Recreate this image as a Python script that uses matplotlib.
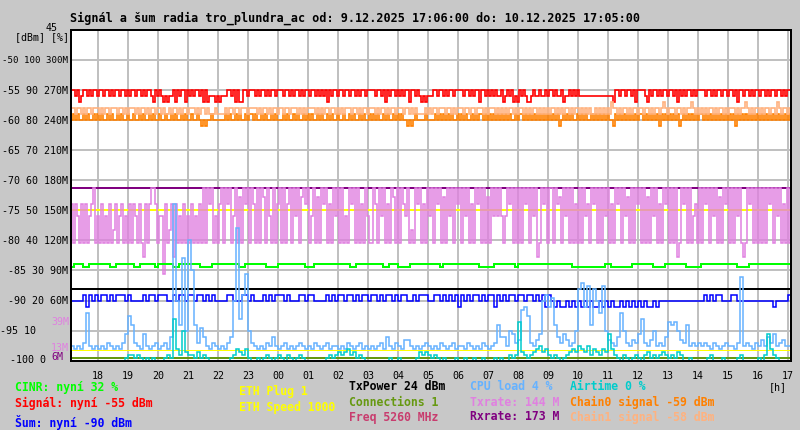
import numpy as np
import matplotlib
matplotlib.use("Agg")
import matplotlib.pyplot as plt

# time axis: 9.12. 17:06 -> 10.12. 17:06, hours counted from 9.12. 00:00
t_start = 17.1
t_end = 41.1

# signal [dBm], one string per hour (15 samples per hour = 4 min)
signal_hours = ["110120110101101", "101101011011010", "110110101102101", "020200121011210",
                "101101212000202", "000110121221101", "110101101011011", "101101011010110",
                "110101012101101", "101101101011011", "110110121011010", "101121101020200",
                "011011010110111", "101101011211010", "101001201012021", "010220100100101",
                "101001200101010", "000000000000000", "021101101101211", "110210110101101",
                "101210101101011", "110110101101101", "101211011010110", "110101101101011"]
signal_levels = {"0": -56, "1": -55, "2": -57}
signal_first = -50

chain1_hours = ["110110101101110", "101101110110101", "110101101011011", "010010110101101",
                "110101101000100", "001011011011101", "111010110101101", "101101110101011",
                "110101011011010", "101110110101101", "110101101011011", "101101010000101",
                "011011101101011", "101101101110101", "110101010110101", "101010110101010",
                "110101011010110", "101010010101010", "211010110101101", "101101011012101",
                "110110101121010", "101011010110101", "110101121010110", "101101102101101"]
chain1_levels = {"0": -59, "1": -58, "2": -57}

chain0_hours = ["010100101001010", "100101001010010", "010010100101001", "001001010010100",
                "100102020010000", "001010010100101", "101001010010100", "010100101001010",
                "100101001010010", "010010100101001", "010100101001010", "100202010000100",
                "001010101010010", "101001010110101", "010101010100101", "101010101010101",
                "010120101010010", "101001010101010", "021010101010101", "101010101210101",
                "010120101010101", "101010101010101", "012101010101010", "101010101010101"]
chain0_levels = {"0": -60, "1": -59, "2": -61}

# noise [dBm] (10 samples per hour)
noise_hours = ["0000121010", "1101011101", "0000101101", "1100101101", "1011010100",
               "0011000110", "1000101011", "1010001101", "1000010101", "1011010110",
               "1101011010", "1100101110", "0110101012", "1010110101", "1210101101",
               "1011010121", "0202202020", "2020220202", "0220202020", "2022020000",
               "0000000000", "0101011000", "1100000000", "0000200001"]
noise_levels = {"0": -90, "1": -89, "2": -91}
noise_first = -67.5

# CINR [%]
cinr_hours = ["1222112222", "2221122222", "2112222212", "2222112222", "2221111222",
              "2222221122", "2222211112", "2222222211", "1222222222", "2221122222",
              "2222112221", "1112222222", "2221222222", "2222221111", "1222222212",
              "2222222222", "2222222111", "1111111122", "1111111222", "2222111122",
              "2222211111", "2222222222", "2211112222", "2222222222"]
cinr_levels = {"1": 31, "2": 32}

# Txrate [M] (15 samples per hour)
txrate_hours = ["cfcdfcfcfdcafdf", "cfdfcfecfdcfdfc", "fcdfcfgcfcaacfd", "dhcfecgcfdfcfdf",
                "cfdfcfafacafdfc", "afacafdafbfacaf", "acfafabfadfafca", "fafcafadafbacaf",
                "dafbfacafcfadaf", "afdfacafafcfadf", "facfadafcfabfaf", "acdafefacafcfad",
                "afacafbfadafaca", "fadafcfacafafbf", "adadadfdacafafa", "facafadagfacafa",
                "afacbfadafafcfa", "fadcfacafafadaf", "cfacafadbfafaca", "fafbfadafcfacaf",
                "afagfacafafdcfa", "facafadafbfacaf", "afadafgfacafafa", "fafacafadafcfaf"]
txrate_levels = {"a": 173, "b": 163, "c": 156, "d": 144, "e": 130, "f": 117, "g": 104, "h": 87}

# CPU load [%] (10 samples per hour)
cpu_hours = [
    [5, 4, 5, 4, 6, 16, 5, 4, 5, 4], [5, 4, 6, 5, 4, 5, 4, 6, 9, 15],
    [12, 6, 5, 4, 9, 5, 4, 5, 6, 4], [5, 6, 4, 8, 52, 20, 12, 34, 10, 40],
    [30, 12, 6, 11, 8, 5, 4, 6, 5, 4], [5, 4, 6, 8, 20, 44, 14, 22, 29, 10],
    [6, 5, 4, 5, 4, 6, 5, 8, 5, 4], [5, 6, 4, 5, 4, 5, 6, 5, 4, 5],
    [4, 6, 5, 4, 5, 6, 4, 5, 5, 4], [5, 4, 6, 5, 4, 5, 6, 4, 5, 4],
    [5, 4, 5, 6, 4, 8, 5, 4, 6, 5], [4, 7, 7, 5, 4, 5, 4, 5, 6, 5],
    [4, 5, 4, 6, 5, 4, 5, 6, 4, 5], [5, 4, 6, 5, 4, 5, 4, 6, 5, 4],
    [5, 6, 12, 8, 8, 5, 10, 9, 6, 7], [17, 18, 15, 6, 5, 7, 9, 20, 22, 18],
    [21, 12, 8, 6, 9, 7, 5, 6, 10, 24], [26, 18, 25, 12, 24, 20, 16, 25, 10, 7],
    [6, 5, 8, 16, 10, 6, 5, 7, 6, 9], [14, 6, 5, 7, 10, 5, 6, 5, 8, 13],
    [12, 13, 10, 7, 6, 12, 5, 6, 5, 6], [5, 6, 5, 4, 6, 5, 4, 5, 6, 5],
    [5, 4, 6, 28, 5, 6, 5, 4, 6, 5], [7, 5, 8, 6, 9, 5, 6, 7, 5, 5]]

# Airtime [%]
airtime_hours = [
    [0, 0, 0, 0, 0, 0, 0, 0, 0, 0], [0, 0, 0, 0, 0, 0, 0, 0, 1, 2],
    [2, 1, 2, 1, 0, 1, 0, 1, 0, 0], [0, 1, 2, 1, 14, 4, 2, 10, 3, 2],
    [2, 1, 3, 1, 2, 1, 0, 0, 0, 0], [0, 0, 0, 1, 2, 4, 3, 2, 4, 1],
    [0, 0, 1, 0, 1, 2, 1, 0, 1, 2], [1, 0, 2, 1, 0, 1, 2, 1, 0, 0],
    [0, 0, 0, 0, 0, 1, 2, 1, 2, 3], [2, 3, 4, 2, 3, 1, 2, 1, 0, 0],
    [0, 0, 0, 0, 0, 0, 1, 0, 0, 1], [0, 0, 0, 0, 0, 1, 3, 2, 3, 2],
    [1, 2, 1, 0, 1, 0, 0, 0, 1, 0], [0, 1, 0, 0, 1, 0, 0, 1, 0, 0],
    [0, 1, 0, 1, 0, 0, 2, 1, 2, 13], [3, 2, 1, 2, 3, 4, 5, 3, 4, 2],
    [1, 2, 1, 0, 1, 2, 3, 4, 3, 5], [4, 3, 5, 2, 4, 3, 2, 4, 3, 9],
    [4, 2, 1, 0, 2, 1, 0, 1, 2, 1], [0, 2, 3, 1, 2, 1, 2, 3, 2, 1],
    [2, 1, 3, 2, 0, 0, 1, 0, 0, 0], [0, 0, 1, 2, 0, 0, 0, 1, 0, 0],
    [0, 0, 1, 2, 0, 0, 0, 0, 0, 1], [0, 2, 9, 4, 2, 1, 0, 0, 0, 0]]

# constant series
txpower = 24        # %
rxrate = 173        # M
eth_speed = 50      # % (scaled)
eth_plug = 11       # M (scaled)
connections = 1     # %

# left axis ticks
dbm_ticks = [-50, -55, -60, -65, -70, -75, -80, -85, -90]
hour_ticks = list(range(18, 42))

legend_rows = [
    (15, 387, "CINR: nyní 32 %", "#00ff00"),
    (15, 403, "Signál: nyní -55 dBm", "#ff0000"),
    (15, 422, "Šum: nyní -90 dBm", "#0000ff"),
    (239, 392, "ETH Plug 1", "#ffff00"),
    (239, 407, "ETH Speed 1000", "#ffff00"),
    (349, 387, "TxPower 24 dBm", "#000000"),
    (349, 402, "Connections 1", "#669911"),
    (349, 417, "Freq 5260 MHz", "#c83c6e"),
    (470, 387, "CPU load 4 %", "#66b2ff"),
    (470, 402, "Txrate: 144 M", "#e080e0"),
    (470, 417, "Rxrate: 173 M", "#800080"),
    (570, 387, "Airtime 0 %", "#00cccc"),
    (570, 402, "Chain0 signal -59 dBm", "#ff8000"),
    (570, 417, "Chain1 signal -58 dBm", "#ffb27f"),
]

PX = 0.72  # one pixel in points at dpi 100


def pct(v):
    return np.asarray(v, dtype=float) / 2 - 100


def mbit(v):
    return np.asarray(v, dtype=float) / 6 - 100


def expand(hours, levels=None):
    # one chunk per hour, samples spread evenly over the hour
    t, v = [], []
    for k, h in enumerate(hours):
        n = len(h)
        for j, c in enumerate(h):
            t.append(t_start + k + j / n)
            v.append(levels[c] if levels else c)
    return t, v


def draw(ax, tv, color, conv=None, lw=1.0, first=None):
    t, v = tv
    t = list(t) + [t_end]
    v = list(v) + [v[-1]]
    if first is not None:
        t = [t_start] + t
        v = [first] + v
    y = conv(v) if conv else v
    ax.step(t, y, where="post", color=color, lw=lw, solid_joinstyle="miter")


def hline(ax, y, color, lw=2 * PX):
    ax.axhline(y, color=color, lw=lw, snap=True)


W, H = 800, 430
fig = plt.figure(figsize=(8, 4.3), dpi=100, facecolor="#c8c8c8")
ax = fig.add_axes([71 / W, 1 - 360.5 / H, 720 / W, 330 / H])
ax.set_facecolor("white")
ax.set_xlim(t_start, t_end)
ax.set_ylim(-100, -45)
ax.set_xticks(hour_ticks)
ax.set_yticks(range(-95, -45, 5))
ax.tick_params(length=0, labelbottom=False, labelleft=False)
ax.grid(color="#c0c0c0", lw=2 * PX, snap=True)
ax.set_axisbelow(True)
for s in ax.spines.values():
    s.set_linewidth(2 * PX)
    s.set_zorder(10)

# series
draw(ax, expand(signal_hours, signal_levels), "#ff0000", lw=1.2, first=signal_first)
draw(ax, expand(chain0_hours, chain0_levels), "#ff8000", lw=1.2)
draw(ax, expand(chain1_hours, chain1_levels), "#ffb27f", lw=1.2)
hline(ax, pct(eth_speed), "#ffff00")
hline(ax, mbit(rxrate), "#800080")
draw(ax, expand(txrate_hours, txrate_levels), "#e080e0", conv=mbit, lw=1.1)
draw(ax, expand(cinr_hours, cinr_levels), "#00ff00", conv=pct, lw=2 * PX)
hline(ax, pct(txpower), "black")
draw(ax, expand(noise_hours, noise_levels), "#0000ff", lw=1.1, first=noise_first)
draw(ax, expand(cpu_hours), "#66b2ff", conv=pct, lw=1.1)
hline(ax, mbit(eth_plug), "#ffff00", lw=PX)
hline(ax, pct(connections), "#669911")
draw(ax, expand(airtime_hours), "#00cccc", conv=pct, lw=1.1)


def ftext(x, y, s, **kw):
    kw.setdefault("family", "DejaVu Sans Mono")
    kw.setdefault("va", "center")
    fig.text(x / W, 1 - y / H, s, **kw)


ftext(70, 18, "Signál a šum radia tro_plundra_ac od: 9.12.2025 17:06:00 do: 10.12.2025 17:05:00",
      size=8.45, weight="bold")

# left scale labels
for d in dbm_ticks:
    y = 30.5 + (-45 - d) * 6
    lab = f"{d} {(d + 100) * 2} {(d + 100) * 6}M"
    ftext(68, y, lab, size=7.2 if len(lab) < 12 else 6.6, ha="right")
ftext(0, 330.5, "-95 10", size=7.2)
ftext(10, 360, "-100 0", size=7.2)
ftext(58, 28, "45", size=7.2, ha="right")
ftext(15, 37, "[dBm] [%]", size=7.2)
ftext(51, 322, "39M", size=7.2, color="#e080e0")
ftext(51, 348, "13M", size=7.2, color="#e080e0")
ftext(51, 357, "6M", size=7.2, color="#800080")

# hour labels
for h in hour_ticks:
    x = 71 + (h - t_start) * 30
    ftext(x, 376, f"{h % 24:02d}", size=7.2, ha="center")
ftext(787, 387, "[h]", size=7.2, ha="right")

for x, y, s, c in legend_rows:
    ftext(x, y, s, size=8.3, weight="bold", color=c)

fig.savefig("out.png", dpi=100, facecolor=fig.get_facecolor())
